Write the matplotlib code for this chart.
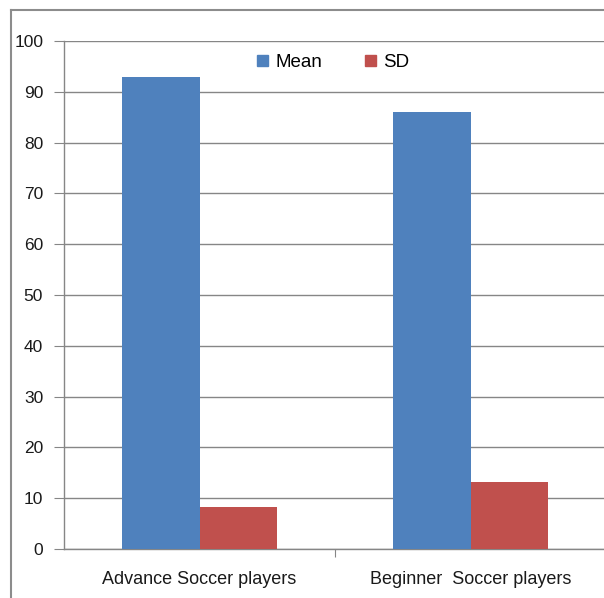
import matplotlib
matplotlib.use('Agg')
import matplotlib.pyplot as plt
import numpy as np
from matplotlib.patches import Patch
from matplotlib.lines import Line2D

plt.rcParams['font.family'] = ['Liberation Sans', 'DejaVu Sans']

categories = ['Advance Soccer players', 'Beginner  Soccer players']
mean_vals = [93, 86]
sd_vals = [8.3, 13.2]
series = ['Mean', 'SD']
yticks = list(range(0, 101, 10))

BLUE = '#4F81BD'; RED = '#C0504D'; GRID = '#868686'; TXT = '#1a1a1a'

fig = plt.figure(figsize=(6.04, 5.98), dpi=100)
ax = fig.add_axes([64/604, 49/598, 542/604, 508/598])

x = np.arange(len(categories))
w = 1/3.5
ax.bar(x - w/2, mean_vals, w, color=BLUE, zorder=3)
ax.bar(x + w/2, sd_vals, w, color=RED, zorder=3)

ax.set_xlim(-0.5, 1.5)
ax.set_ylim(0, 100)
ax.set_yticks(yticks)
ax.set_yticklabels([str(t) for t in yticks], fontsize=12.5, color=TXT)
ax.yaxis.grid(True, color=GRID, lw=1, zorder=0)
ax.set_axisbelow(True)

# category ticks sit at boundaries, labels at centres
ax.set_xticks([0.5])
ax.set_xticklabels([''])
ax.set_xticks(x, minor=True)
ax.set_xticklabels(categories, minor=True, fontsize=13, color=TXT)
ax.tick_params(axis='x', which='major', length=6, color=GRID, direction='out')
ax.tick_params(axis='x', which='minor', length=0, pad=16)
ax.tick_params(axis='y', length=7, color=GRID, pad=8)

for s in ['top', 'right']:
    ax.spines[s].set_visible(False)
for s in ['left', 'bottom']:
    ax.spines[s].set_color(GRID)
    ax.spines[s].set_linewidth(1)

handles = [Patch(color=BLUE), Patch(color=RED)]
ax.legend(handles, series, loc='center', bbox_to_anchor=(0.497, 0.957), ncol=2,
          frameon=False, fontsize=13.5, handlelength=0.55, handleheight=0.55,
          handletextpad=0.4, columnspacing=2.3)

# outer chart frame (left and top edges visible)
fig.add_artist(Line2D([11/604, 11/604], [0, 1 - 10/598], color='#8c8c8c', lw=1.5))
fig.add_artist(Line2D([11/604, 1], [1 - 10/598, 1 - 10/598], color='#8c8c8c', lw=1.5))

fig.savefig('out.png', dpi=100, facecolor='white')
